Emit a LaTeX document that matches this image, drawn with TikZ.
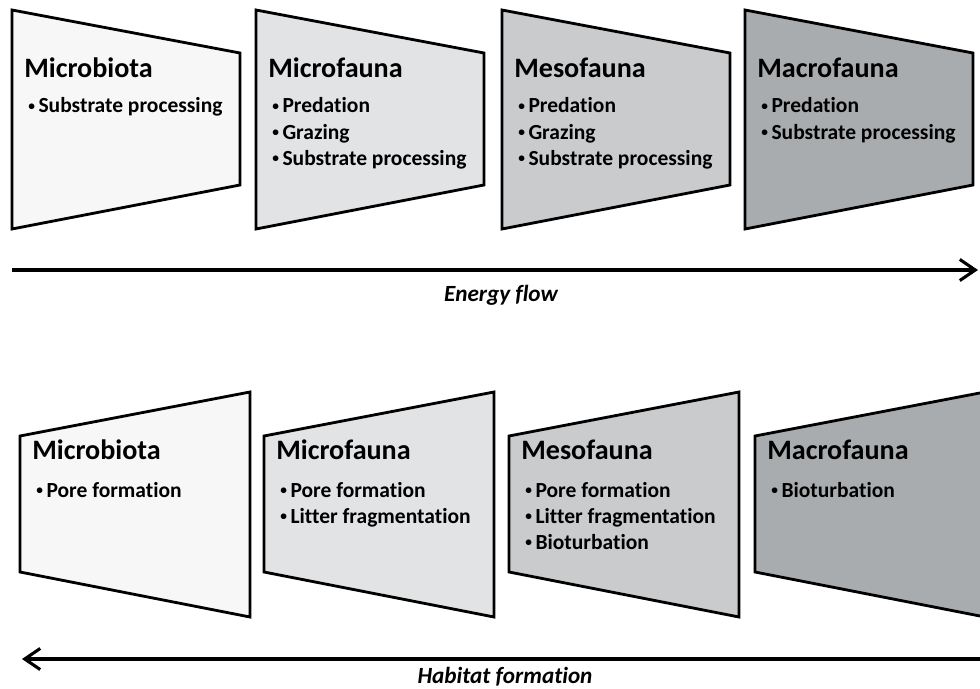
\documentclass[tikz,border=0pt]{standalone}
\usepackage{fontspec}
\setmainfont{Carlito}[Ligatures=NoCommon]
\usepackage{xcolor}
\definecolor{faunaA}{HTML}{F7F7F7}
\definecolor{faunaB}{HTML}{E2E3E4}
\definecolor{faunaC}{HTML}{C9CBCC}
\definecolor{faunaD}{HTML}{A9ACAE}
\usepackage{tikz}
\usetikzlibrary{arrows.meta}

\newcommand{\blt}{{\fontsize{9.5}{9.5}\selectfont\raisebox{.4ex}{\textbullet}}\,}
\newcommand{\itemcol}[1]{\begin{tabular}[t]{@{}l@{}}#1\end{tabular}}

\begin{document}
\begin{tikzpicture}[x=0.025cm, y=-0.025cm,
  tbox/.style={draw=black, line width=2pt, line join=miter},
  ttl/.style={anchor=base west, inner sep=0pt, font=\fontsize{20}{23}\selectfont\bfseries},
  itms/.style={anchor=base west, inner sep=0pt, font=\fontsize{15.3}{18.5}\selectfont\bfseries},
  flow/.style={line width=2.8pt, -{Straight Barb[length=11pt, width=15pt, line width=2.2pt]}},
  flowlbl/.style={anchor=base, inner sep=0pt, font=\fontsize{16.5}{19}\selectfont\bfseries\itshape}]
  \useasboundingbox (0,0) rectangle (980,689);

  % ---- top row: narrowing to the right ----
  \foreach \n/\x/\col/\nm/\its in {
      mbT/12/faunaA/Microbiota/{\blt Substrate processing},
      mfT/256/faunaB/Microfauna/{\blt Predation\\ \blt Grazing\\ \blt Substrate processing},
      msT/502/faunaC/Mesofauna/{\blt Predation\\ \blt Grazing\\ \blt Substrate processing},
      maT/745/faunaD/Macrofauna/{\blt Predation\\ \blt Substrate processing}} {
    \draw[tbox, fill=\col] (\x,10) -- ++(228,43) -- ++(0,132) -- ++(-228,44) -- cycle;
    \node[ttl] (\n) at (\x+12,78) {\nm};
    \node[itms] (\n-list) at (\x+16,113) {\itemcol{\its}};
  }
  \coordinate (efS) at (12,270);
  \coordinate (efE) at (978,270);
  \draw[flow] (efS) -- (efE);
  \node[flowlbl] (ef) at (501,301) {Energy flow};

  % ---- bottom row: widening to the right ----
  \foreach \n/\x/\col/\nm/\its in {
      mbB/20/faunaA/Microbiota/{\blt Pore formation},
      mfB/264/faunaB/Microfauna/{\blt Pore formation\\ \blt Litter fragmentation},
      msB/509/faunaC/Mesofauna/{\blt Pore formation\\ \blt Litter fragmentation\\ \blt Bioturbation},
      maB/755/faunaD/Macrofauna/{\blt Bioturbation}} {
    \draw[tbox, fill=\col] (\x,436) -- ++(230,-44) -- ++(0,225) -- ++(-230,-45) -- cycle;
    \node[ttl] (\n) at (\x+12,459) {\nm};
    \node[itms] (\n-list) at (\x+16,497) {\itemcol{\its}};
  }
  \coordinate (hfS) at (990,659);
  \coordinate (hfE) at (22,659);
  \draw[flow] (hfS) -- (hfE);
  \node[flowlbl] (hf) at (505,683) {Habitat formation};
\end{tikzpicture}
\end{document}
